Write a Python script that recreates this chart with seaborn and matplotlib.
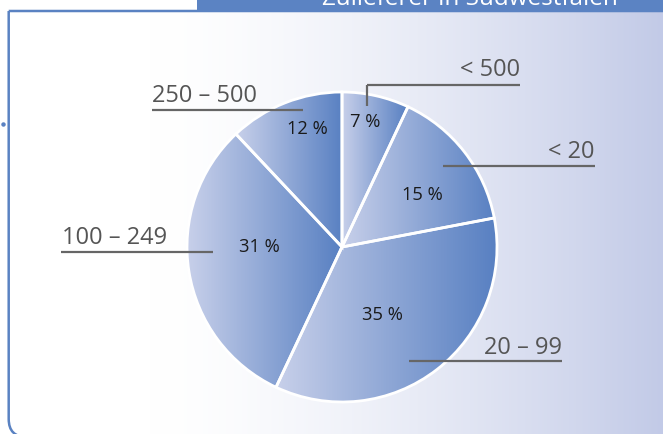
import numpy as np
import matplotlib
matplotlib.use("Agg")
import matplotlib.pyplot as plt
import seaborn as sns
from matplotlib.patches import PathPatch, Rectangle
from matplotlib.path import Path

# ---- data ----
categories = ["< 500", "< 20", "20 – 99", "100 – 249", "250 – 500"]
shares = [7, 15, 35, 31, 12]
title = "Zulieferer in Südwestfalen"

sns.set_theme(style="white")
plt.rcParams["font.family"] = ["Open Sans", "DejaVu Sans"]

W, H = 663, 434
fig = plt.figure(figsize=(W / 100, H / 100), dpi=100)
fig.patch.set_facecolor("white")
ax = fig.add_axes([0, 0, 1, 1])


def Y(p):
    return H - p


# ---- frame with background gradient ----
fx, ftop, fbot, r = 8.7, 11.0, 437.0, 18.0
verts = [(fx, Y(ftop)), (fx, Y(fbot - r)), (fx, Y(fbot)), (fx + r, Y(fbot)),
         (720, Y(fbot)), (720, Y(ftop)), (fx, Y(ftop))]
codes = [Path.MOVETO, Path.LINETO, Path.CURVE3, Path.CURVE3,
         Path.LINETO, Path.LINETO, Path.CLOSEPOLY]
frame = PathPatch(Path(verts, codes), facecolor="none", edgecolor="#5a82c2",
                  lw=1.8, zorder=2)
ax.add_patch(frame)

xs = np.arange(W)
t = np.clip((xs - 150) / 513.0, 0, 1) ** 1.5
c0 = np.array([255, 255, 255]) / 255
c1 = np.array([194, 202, 231]) / 255
grad = (c0[None, :] * (1 - t[:, None]) + c1[None, :] * t[:, None])[None, :, :]
bg = ax.imshow(grad, extent=[0, W, 0, H], aspect="auto", zorder=0,
               interpolation="bilinear")
bg.set_clip_path(frame)

# header bar
ax.add_patch(Rectangle((197, Y(11.5)), W - 197, 11.5, facecolor="#5b83c3",
                       edgecolor="none", zorder=5))
ax.text(322, Y(5), title, color="white", fontsize=17.5, ha="left",
        va="baseline", zorder=6, clip_on=True)
ax.plot([3], [Y(124)], "o", ms=2.2, color="#5a82c2", zorder=3)

# ---- pie ----
cx, cy, R = 342, 247, 155
wedges, _ = ax.pie(shares, startangle=90, counterclock=False,
                   center=(cx, Y(cy)), radius=R,
                   wedgeprops=dict(facecolor="none", edgecolor="white",
                                   linewidth=2.0, zorder=4))
light = np.array([200, 208, 234]) / 255
dark = np.array([88, 128, 194]) / 255
tt = np.linspace(0, 1, 256)
wgrad = (light[None, :] * (1 - tt[:, None]) + dark[None, :] * tt[:, None])[None, :, :]
for w in wedges:
    ext = w.get_path().get_extents(w.get_patch_transform())
    im = ax.imshow(wgrad, extent=[ext.x0, ext.x1, ext.y0, ext.y1],
                   aspect="auto", zorder=3, interpolation="bilinear")
    im.set_clip_path(w)

# percentage labels
pct_pos = [(365, 122), (422, 195), (382, 315), (259, 247), (307, 129)]
for v, (px, py) in zip(shares, pct_pos):
    ax.text(px, Y(py), f"{v} %", ha="center", va="center", fontsize=13.2,
            color="#1a1a1a", zorder=7)

# category labels with leader lines
lines = {
    "< 500": [((367, 520), (84.5, 84.5)), ((367, 367), (84.5, 106))],
    "< 20": [((443, 595), (166, 166))],
    "20 – 99": [((409, 562), (361, 361))],
    "100 – 249": [((61, 213), (252, 252))],
    "250 – 500": [((152, 303), (110, 110))],
}
label_pos = {
    "< 500": (520, 76.5, "right"),
    "< 20": (595, 158, "right"),
    "20 – 99": (562, 353.5, "right"),
    "100 – 249": (62, 244, "left"),
    "250 – 500": (152, 101.5, "left"),
}
for cat in categories:
    for (xx, yy) in lines[cat]:
        ax.plot(xx, [Y(v) for v in yy], color="#666666", lw=1.6,
                solid_capstyle="butt", zorder=8)
    lx, ly, ha = label_pos[cat]
    ax.text(lx, Y(ly), cat, ha=ha, va="baseline", fontsize=17,
            color="#555555", zorder=8)

ax.set_xlim(0, W)
ax.set_ylim(0, H)
ax.axis("off")
fig.savefig("out.png", dpi=100)
